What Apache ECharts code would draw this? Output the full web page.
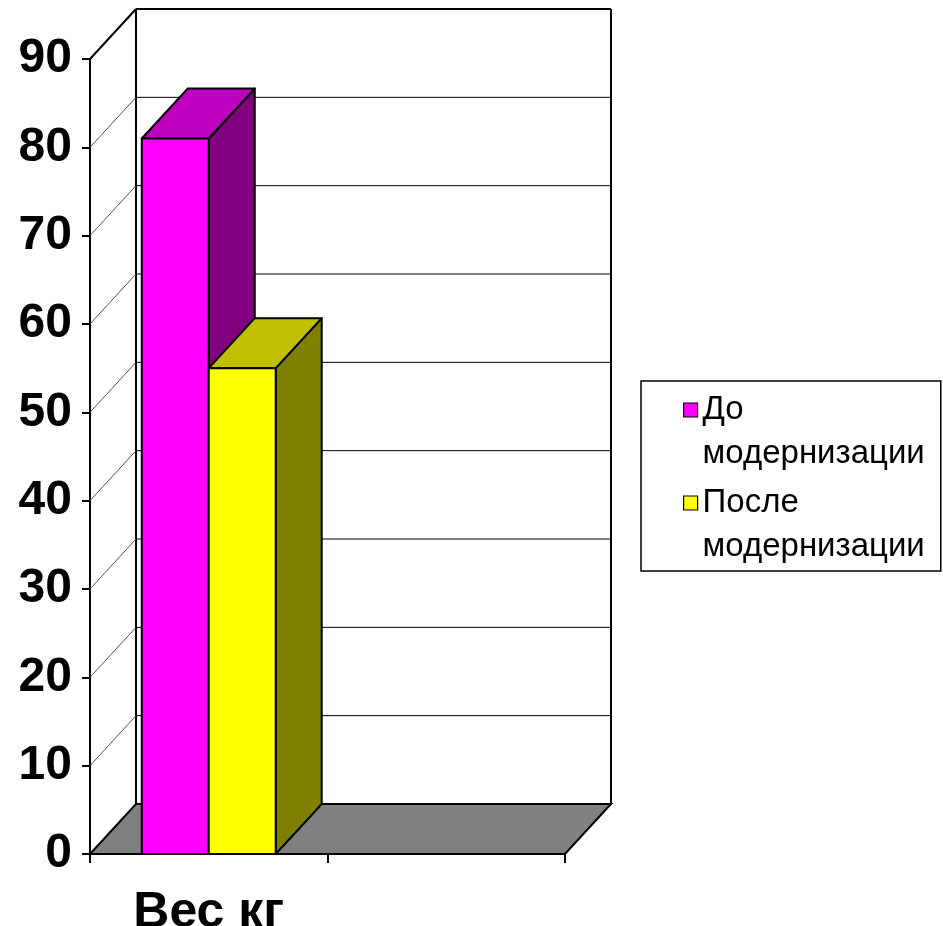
<!DOCTYPE html>
<html>
<head>
<meta charset="utf-8">
<script src="https://cdn.jsdelivr.net/npm/echarts@6/dist/echarts.min.js"></script>
<style>
html,body{margin:0;padding:0;background:#fff;}
#chart{width:943px;height:926px;}
</style>
</head>
<body>
<div id="chart"></div>
<script>
// ---- data ----
var categories = ['Вес кг', ''];
var seriesNames = ['До\nмодернизации', 'После\nмодернизации'];
var beforeValues = [81];
var afterValues = [55];
var yTicks = [0, 10, 20, 30, 40, 50, 60, 70, 80, 90];

// ---- styling ----
var FONT = 'Liberation Sans, Arial, sans-serif';
var DX = 46, DY = -50;
var faceColors = [
  {front: '#FF00FF', top: '#C000C0', side: '#800080'},
  {front: '#FFFF00', top: '#C0C000', side: '#808000'}
];

function frameItem(params, api) {
  var cs = params.coordSys;
  var v = api.value(0);
  var x0 = cs.x, x1 = cs.x + cs.width;
  var y = api.coord([0, v])[1];
  var children = [];
  if (v === 0) {
    children.push({
      type: 'polygon',
      shape: {points: [[x0, y], [x0 + DX, y + DY], [x1 + DX, y + DY], [x1, y]]},
      style: {fill: '#808080', stroke: '#000', lineWidth: 2}
    });
    var yTop = api.coord([0, yTicks[yTicks.length - 1]])[1];
    children.push({type: 'line', shape: {x1: x0 + DX, y1: y + DY, x2: x0 + DX, y2: yTop + DY}, style: {stroke: '#000', lineWidth: 2}});
    children.push({type: 'line', shape: {x1: x1 + DX, y1: y + DY, x2: x1 + DX, y2: yTop + DY}, style: {stroke: '#000', lineWidth: 2}});
  } else {
    var top = v === yTicks[yTicks.length - 1];
    children.push({type: 'line', shape: {x1: x0 + DX, y1: y + DY, x2: x1 + DX, y2: y + DY}, style: {stroke: '#000', lineWidth: top ? 2 : 1}});
    children.push({type: 'line', shape: {x1: x0, y1: y, x2: x0 + DX, y2: y + DY}, style: {stroke: top ? '#000' : '#555', lineWidth: top ? 2 : 1}});
  }
  return {type: 'group', children: children};
}

function barItem(idx) {
  return function (params, api) {
    var cat = api.value(0), val = api.value(1);
    var band = api.size([1, 0])[0];
    var w = band * 0.282;
    var c = api.coord([cat, val]);
    var base = api.coord([cat, 0]);
    var x = c[0] - w + idx * w;
    var yT = c[1], y0 = base[1];
    var col = faceColors[idx];
    var st = {stroke: '#000', lineWidth: 2, lineJoin: 'round'};
    return {
      type: 'group',
      children: [
        {type: 'polygon', shape: {points: [[x + w, yT], [x + w + DX, yT + DY], [x + w + DX, y0 + DY], [x + w, y0]]}, style: Object.assign({fill: col.side}, st)},
        {type: 'polygon', shape: {points: [[x, yT], [x + DX, yT + DY], [x + w + DX, yT + DY], [x + w, yT]]}, style: Object.assign({fill: col.top}, st)},
        {type: 'rect', shape: {x: x, y: yT, width: w, height: y0 - yT}, style: Object.assign({fill: col.front}, st)}
      ]
    };
  };
}

var chart = echarts.init(document.getElementById('chart'));
chart.setOption({
  animation: false,
  backgroundColor: '#fff',
  grid: {left: 90, top: 59, width: 475, height: 795, containLabel: false, outerBoundsMode: 'none'},
  legend: {
    orient: 'vertical',
    left: 641,
    top: 381,
    padding: [-37, 16, 2, 42],
    itemGap: -39,
    itemWidth: 14,
    itemHeight: 14,
    icon: 'rect',
    borderColor: '#000',
    borderWidth: 1.5,
    backgroundColor: '#fff',
    itemStyle: {borderColor: '#000', borderWidth: 1.2},
    formatter: function (n) { return '\n' + n; },
    textStyle: {fontFamily: FONT, fontSize: 33, color: '#000', lineHeight: 44},
    data: seriesNames
  },
  xAxis: {
    type: 'category',
    data: categories,
    boundaryGap: true,
    axisLine: {lineStyle: {color: '#000', width: 2}},
    axisTick: {show: true, length: 9, lineStyle: {color: '#000', width: 2}},
    axisLabel: {fontFamily: FONT, fontSize: 50, fontWeight: 'bold', color: '#000', margin: 34},
    splitLine: {show: false}
  },
  yAxis: {
    type: 'value',
    min: 0, max: 90, interval: 10,
    axisLine: {show: true, lineStyle: {color: '#000', width: 2}},
    axisTick: {show: true, length: 8, lineStyle: {color: '#000', width: 2}},
    axisLabel: {fontFamily: FONT, fontSize: 48, fontWeight: 'bold', color: '#000', margin: 18, padding: [6, 0, 0, 0]},
    splitLine: {show: false}
  },
  series: [
    {
      type: 'custom', name: 'frame', z: 1, silent: true,
      renderItem: frameItem,
      data: yTicks.map(function (t) { return [t]; }),
      encode: {y: 0}
    },
    {
      type: 'custom', name: seriesNames[0], z: 3,
      itemStyle: {color: faceColors[0].front},
      renderItem: barItem(0),
      data: beforeValues.map(function (v, i) { return [i, v]; }),
      encode: {x: 0, y: 1}
    },
    {
      type: 'custom', name: seriesNames[1], z: 4,
      itemStyle: {color: faceColors[1].front},
      renderItem: barItem(1),
      data: afterValues.map(function (v, i) { return [i, v]; }),
      encode: {x: 0, y: 1}
    }
  ]
});
</script>
</body>
</html>
